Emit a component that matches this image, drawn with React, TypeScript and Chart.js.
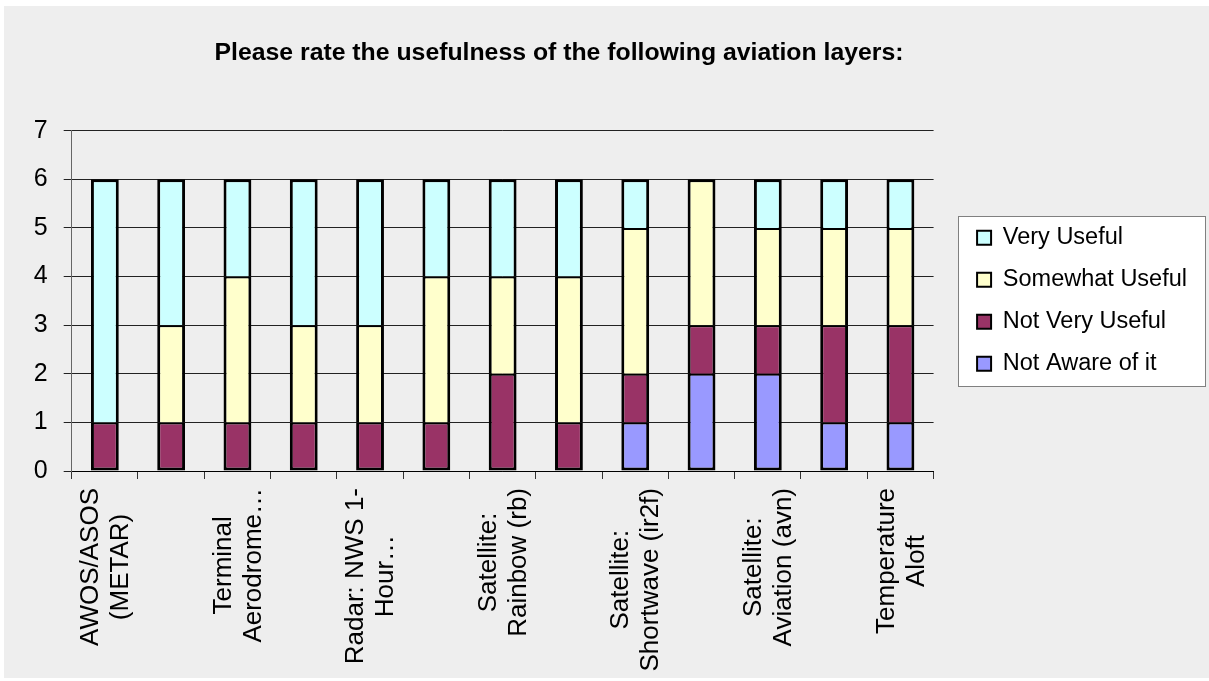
import React, { useEffect, useRef } from "react";
import { Chart, registerables } from "chart.js";

Chart.register(...registerables);

const TITLE = "Please rate the usefulness of the following aviation layers:";

// Category labels (only every other label is printed in the original)
const categories: (string | string[])[] = [
  ["AWOS/ASOS", "(METAR)"],
  "",
  ["Terminal", "Aerodrome…"],
  "",
  ["Radar: NWS 1-", "Hour…"],
  "",
  ["Satellite:", "Rainbow (rb)"],
  "",
  ["Satellite:", "Shortwave (ir2f)"],
  "",
  ["Satellite:", "Aviation (avn)"],
  "",
  ["Temperature", "Aloft"],
];

const seriesNames = ["Not Aware of it", "Not Very Useful", "Somewhat Useful", "Very Useful"];
const notAware = [0, 0, 0, 0, 0, 0, 0, 0, 1, 2, 2, 1, 1];
const notVeryUseful = [1, 1, 1, 1, 1, 1, 2, 1, 1, 1, 1, 2, 2];
const somewhatUseful = [0, 2, 3, 2, 2, 3, 2, 3, 3, 3, 2, 2, 2];
const veryUseful = [5, 3, 2, 3, 3, 2, 2, 2, 1, 0, 1, 1, 1];
const seriesColors = ["#9999FF", "#993366", "#FFFFCC", "#CCFFFF"];

const yMin = 0;
const yMax = 7;
const yStep = 1;

const FONT = '"Liberation Sans", Arial, sans-serif';
const LEGEND_SHIFT = 25;
const LEGEND_FONT = 23.5;

export default function App() {
  const canvasRef = useRef<HTMLCanvasElement | null>(null);

  useEffect(() => {
    if (!canvasRef.current) return;
    Chart.defaults.font.family = FONT;

    const data = [notAware, notVeryUseful, somewhatUseful, veryUseful];

    const titlePlugin = {
      id: "excelTitle",
      afterDraw(chart: any) {
        const ctx = chart.ctx;
        ctx.save();
        ctx.font = `bold 24.8px ${FONT}`;
        ctx.fillStyle = "#000";
        ctx.textAlign = "center";
        ctx.textBaseline = "alphabetic";
        ctx.fillText(TITLE, 555, 53.5);
        ctx.restore();
      },
    };

    const legendBoxPlugin = {
      id: "legendBox",
      afterLayout(chart: any) {
        const lg = chart.legend;
        if (!lg) return;
        lg.left += LEGEND_SHIFT;
        lg.right += LEGEND_SHIFT;
      },
      beforeDraw(chart: any) {
        const lg = chart.legend;
        if (!lg || !lg.legendHitBoxes || !lg.legendHitBoxes.length) return;
        const hb = lg.legendHitBoxes;
        let l = Infinity, r = -Infinity, t = Infinity, b = -Infinity;
        const ctx = chart.ctx;
        ctx.save();
        ctx.font = `${LEGEND_FONT}px ${FONT}`;
        hb.forEach((h: any, i: number) => {
          const item = lg.legendItems[i];
          const tw = ctx.measureText(item.text).width;
          l = Math.min(l, h.left);
          r = Math.max(r, h.left + 14 + LEGEND_FONT / 2 + tw);
          t = Math.min(t, h.top);
          b = Math.max(b, h.top + h.height);
        });
        const x1 = Math.round(l - 19) + 0.5;
        const x2 = Math.round(r + 18) + 0.5;
        const y1 = Math.round(t - 10) + 0.5;
        const y2 = Math.round(b + 10) + 0.5;
        ctx.fillStyle = "#FFFFFF";
        ctx.fillRect(x1, y1, x2 - x1, y2 - y1);
        ctx.strokeStyle = "#808080";
        ctx.lineWidth = 1;
        ctx.strokeRect(x1, y1, x2 - x1, y2 - y1);
        ctx.restore();
      },
    };

    const xLabelPlugin = {
      id: "xLabels",
      afterDraw(chart: any) {
        const xs = chart.scales.x;
        const ctx = chart.ctx;
        const fontSize = 26;
        const lineH = 30;
        ctx.save();
        ctx.font = `${fontSize}px ${FONT}`;
        ctx.fillStyle = "#000";
        ctx.textAlign = "center";
        ctx.textBaseline = "middle";
        categories.forEach((lab, i) => {
          const lines = Array.isArray(lab) ? lab : lab ? [lab] : [];
          if (!lines.length) return;
          const x = xs.getPixelForValue(i);
          const yTop = chart.chartArea.bottom + 17;
          const maxLen = Math.max(...lines.map((s) => ctx.measureText(s).width));
          ctx.save();
          ctx.translate(x, yTop);
          ctx.rotate(-Math.PI / 2);
          lines.forEach((s, j) => {
            const off = (j - (lines.length - 1) / 2) * lineH;
            ctx.fillText(s, -maxLen / 2, off + 1);
          });
          ctx.restore();
        });
        ctx.restore();
      },
    };

    // outer outline 3px, dividers between stacked segments 2px
    const borderFor = (dsIndex: number, idx: number) => {
      const v = data[dsIndex][idx];
      if (!v) return 0;
      let lowest = true;
      let topmost = true;
      for (let k = 0; k < dsIndex; k++) if (data[k][idx]) lowest = false;
      for (let k = dsIndex + 1; k < data.length; k++) if (data[k][idx]) topmost = false;
      return { top: topmost ? 3 : 2, left: 3, right: 3, bottom: lowest ? 3 : 0 };
    };

    const chart = new Chart(canvasRef.current, {
      type: "bar",
      data: {
        labels: categories.map((c) => (Array.isArray(c) ? c.join(" ") : c)),
        datasets: seriesNames.map((name, i) => ({
          label: name,
          data: data[i],
          backgroundColor: seriesColors[i],
          borderColor: "#000000",
          borderWidth: (ctx: any) =>
            ctx.type === "data" ? borderFor(ctx.datasetIndex, ctx.dataIndex) : 2,
          borderSkipped: false,
          barPercentage: 0.42,
          categoryPercentage: 1,
        })),
      },
      options: {
        animation: false,
        responsive: true,
        maintainAspectRatio: false,
        layout: { padding: { top: 124.7, left: 30, right: 12 + LEGEND_SHIFT, bottom: 0 } },
        plugins: {
          title: { display: false },
          tooltip: { enabled: false },
          legend: {
            position: "right",
            fullSize: false,
            reverse: true,
            align: "center",
            labels: {
              boxWidth: 14,
              boxHeight: 14,
              padding: 18.5,
              color: "#000",
              font: { size: LEGEND_FONT, family: FONT },
              generateLabels: (chart: any) =>
                chart.data.datasets.map((ds: any, i: number) => ({
                  text: ds.label,
                  fillStyle: ds.backgroundColor,
                  strokeStyle: "#000000",
                  lineWidth: 2,
                  hidden: false,
                  datasetIndex: i,
                  fontColor: "#000",
                })),
            },
          },
        },
        scales: {
          x: {
            stacked: true,
            grid: {
              display: true,
              drawOnChartArea: false,
              drawTicks: true,
              tickLength: 8,
              color: "#333333",
              offset: true,
            },
            border: { display: true, color: "#000000", width: 1 },
            ticks: { display: false },
            afterFit: (s: any) => {
              s.height = 207;
            },
          },
          y: {
            stacked: true,
            min: yMin,
            max: yMax,
            ticks: {
              stepSize: yStep,
              color: "#000",
              padding: 16,
              font: { size: 25, family: FONT },
            },
            grid: { color: "#222222", lineWidth: 1, tickLength: 8, drawTicks: true },
            border: { display: true, color: "#666666", width: 1 },
            afterFit: (s: any) => {
              s.width = 37.7;
            },
          },
        },
      },
      plugins: [legendBoxPlugin, titlePlugin, xLabelPlugin],
    } as any);

    return () => chart.destroy();
  }, []);

  return (
    <div
      style={{
        position: "absolute",
        left: 4,
        top: 6,
        width: 1205,
        height: 672,
        background: "#EEEEEE",
      }}
    >
      <canvas ref={canvasRef} />
    </div>
  );
}
